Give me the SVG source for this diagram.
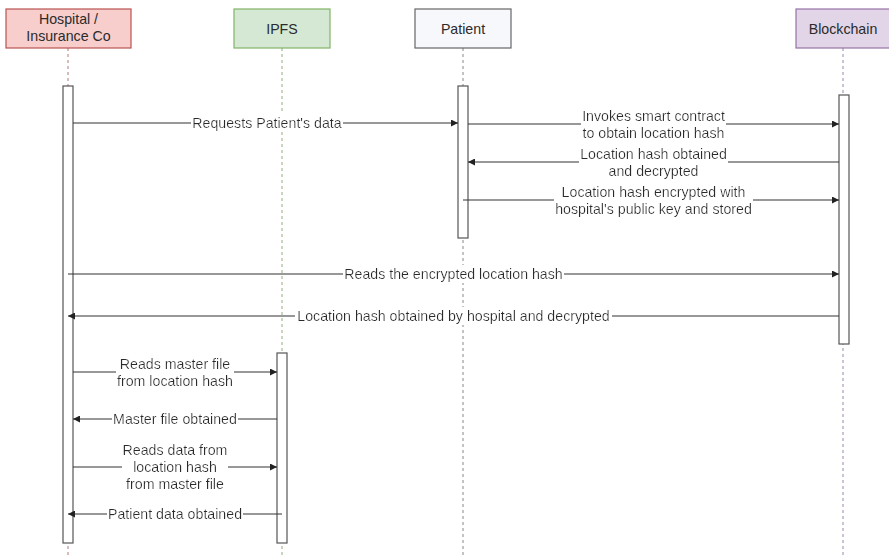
<svg xmlns="http://www.w3.org/2000/svg" width="889" height="558" viewBox="0 0 889 558">
  <style>
    text { font-family: "Liberation Sans", Arial, sans-serif; font-size: 14.2px; fill: #2b2b2b; text-anchor: middle; }
    .life { fill: none; stroke-width: 1; stroke-dasharray: 3 3; }
    .bar { fill: #ffffff; stroke: #555555; stroke-width: 1.2; }
    .msg { fill: none; stroke: #333333; stroke-width: 1.2; marker-end: url(#arrow); }
    .lbl { filter: url(#labelBg); }
  </style>
  <defs>
    <marker id="arrow" viewBox="0 0 10 10" refX="10" refY="5" markerWidth="7" markerHeight="7" markerUnits="userSpaceOnUse" orient="auto">
      <path d="M0,0 L10,5 L0,10 z" fill="#222222"/>
    </marker>
    <!-- white box behind message labels so the arrow line breaks around them -->
    <filter id="labelBg" x="-0.005" y="-0.04" width="1.01" height="1.08">
      <feFlood flood-color="#ffffff"/>
      <feMerge>
        <feMergeNode/>
        <feMergeNode in="SourceGraphic"/>
      </feMerge>
    </filter>
  </defs>
  <rect width="889" height="558" fill="#ffffff"/>

  <!-- lifelines -->
  <g id="lifelines">
    <line class="life" x1="68" y1="48" x2="68" y2="558" stroke="#b27a76"/>
    <line class="life" x1="282" y1="48" x2="282" y2="558" stroke="#8fae7f"/>
    <line class="life" x1="463" y1="48" x2="463" y2="558" stroke="#888888"/>
    <line class="life" x1="843" y1="48" x2="843" y2="558" stroke="#9a86a8"/>
  </g>

  <!-- participants -->
  <g id="hospital">
    <rect x="6" y="9" width="125" height="39" fill="#f8cecc" stroke="#b85450" stroke-width="1.2"/>
    <text x="68.5" y="24">Hospital /</text>
    <text x="68.5" y="41">Insurance Co</text>
    <rect class="bar" x="63" y="86" width="10" height="457"/>
  </g>
  <g id="ipfs">
    <rect x="234" y="9" width="96" height="39" fill="#d5e8d4" stroke="#82b366" stroke-width="1.2"/>
    <text x="282" y="33.5">IPFS</text>
    <rect class="bar" x="277" y="353" width="10" height="190"/>
  </g>
  <g id="patient">
    <rect x="415" y="9" width="96" height="39" fill="#f7f8fc" stroke="#666666" stroke-width="1.2"/>
    <text x="463" y="33.5">Patient</text>
    <rect class="bar" x="458" y="86" width="10" height="152"/>
  </g>
  <g id="blockchain">
    <rect x="796" y="9" width="96" height="39" fill="#e1d5e7" stroke="#9673a6" stroke-width="1.2"/>
    <text x="843" y="33.5">Blockchain</text>
    <rect class="bar" x="839" y="95" width="10" height="249"/>
  </g>

  <!-- messages -->
  <g id="connectors">
    <line class="msg" x1="73" y1="123" x2="458" y2="123"/>
    <line class="msg" x1="468" y1="124" x2="839" y2="124"/>
    <line class="msg" x1="839" y1="162" x2="468" y2="162"/>
    <line class="msg" x1="463" y1="200" x2="839" y2="200"/>
    <line class="msg" x1="68" y1="274" x2="839" y2="274"/>
    <line class="msg" x1="839" y1="316" x2="68" y2="316"/>
    <line class="msg" x1="73" y1="372" x2="277" y2="372"/>
    <line class="msg" x1="277" y1="419" x2="73" y2="419"/>
    <line class="msg" x1="73" y1="467" x2="277" y2="467"/>
    <line class="msg" x1="282" y1="514" x2="68" y2="514"/>
  </g>

  <!-- message labels -->
  <g id="labels">
    <text class="lbl" x="267" y="128">Requests Patient's data</text>
    <text class="lbl" x="653.5" y="121">Invokes smart contract<tspan x="653.5" dy="17">to obtain location hash</tspan></text>
    <text class="lbl" x="653.5" y="159">Location hash obtained<tspan x="653.5" dy="17">and decrypted</tspan></text>
    <text class="lbl" x="653.5" y="197">Location hash encrypted with<tspan x="653.5" dy="17">hospital's public key and stored</tspan></text>
    <text class="lbl" x="453.5" y="279">Reads the encrypted location hash</text>
    <text class="lbl" x="453.5" y="321">Location hash obtained by hospital and decrypted</text>
    <text class="lbl" x="175" y="369">Reads master file<tspan x="175" dy="17">from location hash</tspan></text>
    <text class="lbl" x="175" y="424">Master file obtained</text>
    <text class="lbl" x="175" y="455">Reads data from<tspan x="175" dy="17">location hash</tspan><tspan x="175" dy="17">from master file</tspan></text>
    <text class="lbl" x="175" y="519">Patient data obtained</text>
  </g>
</svg>
